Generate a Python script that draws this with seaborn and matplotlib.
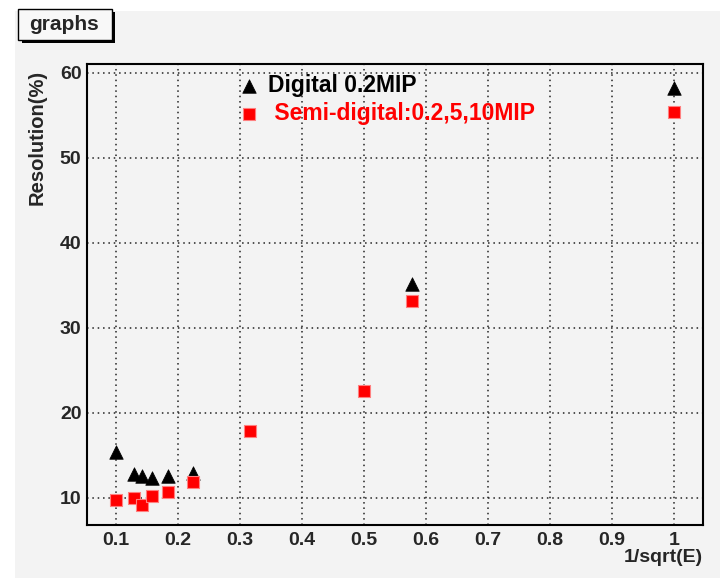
import matplotlib
matplotlib.use("Agg")
import matplotlib.pyplot as plt
from matplotlib.patches import Rectangle
from matplotlib.ticker import MultipleLocator, FuncFormatter
import pandas as pd
import seaborn as sns

# values
x_digital = [0.1, 0.129, 0.141, 0.158, 0.183, 0.224, 0.577, 1.0]
res_digital = [15.4, 12.8, 12.6, 12.3, 12.6, 12.9, 35.1, 58.2]
x_semi = [0.1, 0.129, 0.141, 0.158, 0.183, 0.224, 0.316, 0.5, 0.577, 1.0]
res_semi = [9.7, 10.0, 9.2, 10.2, 10.7, 11.9, 17.9, 22.5, 33.1, 55.3]
label_digital = "Digital 0.2MIP"
label_semi = " Semi-digital:0.2,5,10MIP"

df_digital = pd.DataFrame({'x': x_digital, 'res': res_digital})
df_semi = pd.DataFrame({'x': x_semi, 'res': res_semi})

sns.set_style("white")
plt.rcParams['font.family'] = ['Liberation Sans', 'DejaVu Sans']
plt.rcParams['font.weight'] = 'bold'

W, H = 720, 578
BG = '#f3f3f3'

fig = plt.figure(figsize=(7.2, 5.78), dpi=100)
fig.patch.set_facecolor('white')
# grey canvas
fig.add_artist(Rectangle((15 / W, 0), 1 - 15 / W, (H - 11) / H, transform=fig.transFigure,
                         facecolor=BG, edgecolor='none', zorder=-1))

ax = fig.add_axes([87 / W, 1 - 525 / H, 616 / W, 461 / H])
ax.set_facecolor(BG)

sns.scatterplot(data=df_digital, x='x', y='res', marker='^', color='black', s=95,
                edgecolor='black', linewidth=0.5, label=label_digital, ax=ax, zorder=3)
sns.scatterplot(data=df_semi, x='x', y='res', marker='s', color='red', s=78,
                edgecolor='#ff8080', linewidth=0.8, label=label_semi, ax=ax, zorder=4)

ax.set_xlim(0.053, 1.047)
ax.set_ylim(6.8, 61.0)
ax.xaxis.set_major_locator(MultipleLocator(0.1))
ax.xaxis.set_minor_locator(MultipleLocator(0.02))
ax.yaxis.set_major_locator(MultipleLocator(10))
ax.yaxis.set_minor_locator(MultipleLocator(2))
ax.xaxis.set_major_formatter(FuncFormatter(lambda v, p: f'{v:g}'))

ax.grid(True, which='major', color='#222222', linestyle=(0, (1, 2.5)), linewidth=1.1)
ax.set_axisbelow(True)

ax.tick_params(which='both', direction='in', top=False, right=False, width=1.2, color='black',
               labelsize=14)
ax.tick_params(axis='y', which='major', length=12, pad=4)
ax.tick_params(axis='y', which='minor', length=6)
ax.tick_params(axis='x', which='major', length=8.5, pad=5)
ax.tick_params(axis='x', which='minor', length=5)
for lab in ax.get_xticklabels() + ax.get_yticklabels():
    lab.set_fontweight('bold')

for side in ['left', 'bottom', 'top', 'right']:
    ax.spines[side].set_visible(True)
    ax.spines[side].set_color('black')
    ax.spines[side].set_linewidth(1.5)

ax.set_xlabel('1/sqrt(E)', fontsize=14, fontweight='bold', loc='right', va='center')
ax.xaxis.set_label_coords(1.0, -33 / 461)
ax.set_ylabel('Resolution(%)', fontsize=14.5, fontweight='bold', va='center', ha='center')
ax.yaxis.set_label_coords(-50 / 616, 1 - 73 / 461)

ax.legend(loc='upper left', bbox_to_anchor=(238 / W, 1 - 74 / H), bbox_transform=fig.transFigure,
          frameon=False, handlelength=1.0, handletextpad=0.3, labelspacing=0.2,
          borderpad=0, borderaxespad=0, labelcolor=['black', 'red'],
          prop={'weight': 'bold', 'size': 16.5})

# title box with shadow
fig.add_artist(Rectangle((22 / W, 1 - 43 / H), 93 / W, 31 / H, transform=fig.transFigure,
                         facecolor='black', edgecolor='none', zorder=5))
fig.add_artist(Rectangle((18 / W, 1 - 40 / H), 94 / W, 31 / H, transform=fig.transFigure,
                         facecolor='#f8f8f8', edgecolor='black', linewidth=1, zorder=6))
fig.text(64 / W, 1 - 24 / H, 'graphs', fontsize=15, fontweight='bold', ha='center', va='center',
         zorder=7)

fig.savefig('out.png', dpi=100)
